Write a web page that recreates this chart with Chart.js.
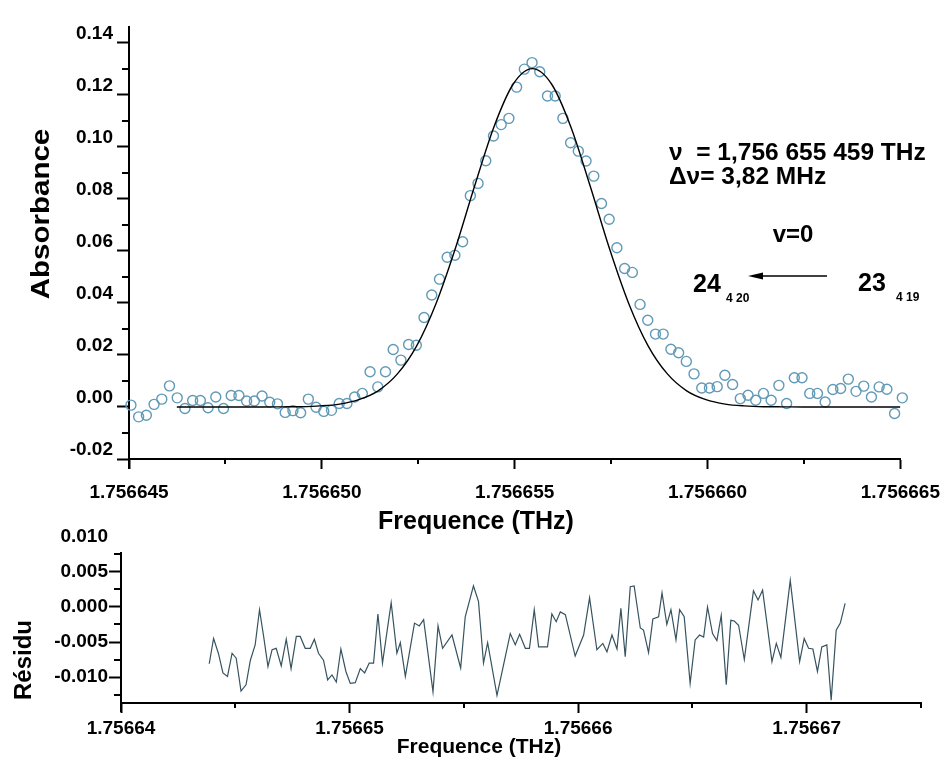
<!DOCTYPE html>
<html>
<head>
<meta charset="utf-8">
<title>Absorbance</title>
<script src="https://cdn.jsdelivr.net/npm/chart.js@4.4.1/dist/chart.umd.min.js"></script>
<style>
  html, body { margin: 0; padding: 0; background: #fff; }
  #wrap { position: relative; width: 952px; height: 760px; }
  #specBox { position: absolute; left: 0; top: 0; width: 952px; height: 540px; }
  #resBox { position: absolute; left: 0; top: 525px; width: 952px; height: 235px; }
</style>
</head>
<body>
<div id="wrap">
  <div id="specBox"><canvas id="specChart" width="952" height="540"></canvas></div>
  <div id="resBox"><canvas id="resChart" width="952" height="235"></canvas></div>
</div>
<script>
const FONT = "'Liberation Sans', Arial, sans-serif";

// mesures (fréquence en THz, absorbance)
const specFreq = [
  1.75664505, 1.75664525, 1.75664545, 1.75664565, 1.75664585, 1.75664605, 1.75664625, 1.75664645, 1.75664665, 1.75664685,
  1.75664705, 1.75664725, 1.75664745, 1.75664765, 1.75664785, 1.75664805, 1.75664825, 1.75664845, 1.75664865, 1.75664885,
  1.75664905, 1.75664925, 1.75664945, 1.75664965, 1.75664985, 1.75665005, 1.75665025, 1.75665045, 1.75665065, 1.75665085,
  1.75665105, 1.75665125, 1.75665145, 1.75665165, 1.75665185, 1.75665205, 1.75665225, 1.75665245, 1.75665265, 1.75665285,
  1.75665305, 1.75665325, 1.75665345, 1.75665365, 1.75665385, 1.75665405, 1.75665425, 1.75665445, 1.75665465, 1.75665485,
  1.75665505, 1.75665525, 1.75665545, 1.75665565, 1.75665585, 1.75665605, 1.75665625, 1.75665645, 1.75665665, 1.75665685,
  1.75665705, 1.75665725, 1.75665745, 1.75665765, 1.75665785, 1.75665805, 1.75665825, 1.75665845, 1.75665865, 1.75665885,
  1.75665905, 1.75665925, 1.75665945, 1.75665965, 1.75665985, 1.75666005, 1.75666025, 1.75666045, 1.75666065, 1.75666085,
  1.75666105, 1.75666125, 1.75666145, 1.75666165, 1.75666185, 1.75666205, 1.75666225, 1.75666245, 1.75666265, 1.75666285,
  1.75666305, 1.75666325, 1.75666345, 1.75666365, 1.75666385, 1.75666405, 1.75666425, 1.75666445, 1.75666465, 1.75666485,
  1.75666505
];
const specAbs = [
  0.0007, -0.0038, -0.0032, 0.0010, 0.0030, 0.0081, 0.0035, -0.0006, 0.0025, 0.0025,
  -0.0003, 0.0038, -0.0006, 0.0044, 0.0044, 0.0023, 0.0023, 0.0042, 0.0018, 0.0012,
  -0.0021, -0.0014, -0.0022, 0.0030, -0.0001, -0.0017, -0.0013, 0.0013, 0.0013, 0.0038,
  0.0052, 0.0135, 0.0077, 0.0135, 0.0221, 0.0180, 0.0240, 0.0237, 0.0344, 0.0430,
  0.0491, 0.0575, 0.0583, 0.0635, 0.0812, 0.0859, 0.0946, 0.1041, 0.1085, 0.1109,
  0.1229, 0.1298, 0.1323, 0.1288, 0.1195, 0.1195, 0.1109, 0.1015, 0.0983, 0.0945,
  0.0887, 0.0782, 0.0721, 0.0612, 0.0532, 0.0517, 0.0394, 0.0333, 0.0280, 0.0280,
  0.0222, 0.0208, 0.0175, 0.0127, 0.0073, 0.0073, 0.0078, 0.0122, 0.0086, 0.0032,
  0.0045, 0.0026, 0.0052, 0.0026, 0.0083, 0.0013, 0.0112, 0.0112, 0.0052, 0.0052,
  0.0019, 0.0067, 0.0071, 0.0107, 0.0060, 0.0080, 0.0038, 0.0077, 0.0068, -0.0025,
  0.0035
];

// profil ajusté (centre 1,756 655 459 THz, largeur 3,82 MHz)
const fitFreq = [
  1.75664624, 1.756648459, 1.756648959, 1.756649459, 1.756649959, 1.756650459, 1.756650959,
  1.756651459, 1.756651959, 1.756652459, 1.756652959, 1.756653459, 1.756653959, 1.756654459,
  1.756654959, 1.756655459, 1.756655959, 1.756656459, 1.756656959, 1.756657459, 1.756657959,
  1.756658459, 1.756658959, 1.756659459, 1.756659959, 1.756660459, 1.756660959, 1.756661459,
  1.756661959, 1.756662459, 1.756665
];
const fitAbs = [
  0, 0, 0.00004, 0.0001, 0.0004, 0.0011, 0.0028,
  0.0062, 0.0127, 0.0235, 0.0397, 0.0608, 0.0848, 0.1075,
  0.1240, 0.1300, 0.1240, 0.1075, 0.0848, 0.0608, 0.0397,
  0.0235, 0.0127, 0.0062, 0.0028, 0.0011, 0.0004, 0.0001,
  0.00004, 0, 0
];

// résidu
const resFreq = [
  1.75664386, 1.75664405, 1.75664426, 1.75664446, 1.75664466, 1.75664486, 1.75664504, 1.75664525, 1.75664547, 1.75664566,
  1.75664587, 1.75664606, 1.75664624, 1.75664643, 1.75664661, 1.75664679, 1.75664701, 1.75664723, 1.75664744, 1.75664767,
  1.75664784, 1.75664806, 1.75664828, 1.75664846, 1.75664864, 1.75664886, 1.75664904, 1.75664923, 1.75664942, 1.75664962,
  1.75664984, 1.75665003, 1.75665025, 1.75665047, 1.75665066, 1.75665086, 1.75665105, 1.75665124, 1.75665144, 1.75665182,
  1.75665207, 1.75665222, 1.75665244, 1.75665284, 1.75665305, 1.75665324, 1.75665365, 1.75665387, 1.75665407, 1.75665448,
  1.75665486, 1.75665506, 1.75665542, 1.75665564, 1.75665586, 1.75665604, 1.75665645, 1.75665703, 1.75665725, 1.75665744,
  1.75665769, 1.75665787, 1.75665808, 1.75665827, 1.75665866, 1.75665885, 1.75665904, 1.75665922, 1.75665944, 1.75665987,
  1.75666024, 1.7566605, 1.75666082, 1.75666108, 1.75666126, 1.75666148, 1.7566617, 1.75666187, 1.75666206, 1.75666228,
  1.75666245, 1.75666272, 1.75666286, 1.75666308, 1.75666327, 1.75666352, 1.75666367, 1.75666388, 1.75666406, 1.75666428,
  1.75666444, 1.75666464, 1.7566649, 1.75666512, 1.75666531, 1.75666549, 1.75666566, 1.75666588, 1.75666607, 1.75666626,
  1.75666648, 1.75666668, 1.75666683, 1.75666702, 1.75666727, 1.75666767, 1.75666787, 1.75666807, 1.75666848, 1.75666867,
  1.75666887, 1.75666928, 1.75666969, 1.75666989, 1.75667008, 1.75667027, 1.75667047, 1.75667066, 1.75667088, 1.75667107,
  1.75667129, 1.75667147, 1.75667168
];
const resVal = [
  -0.0081, -0.0045, -0.0066, -0.0094, -0.0099, -0.0066, -0.0073, -0.0120, -0.0111, -0.0076,
  -0.0054, -0.0004, -0.0042, -0.0085, -0.0061, -0.0059, -0.0084, -0.0046, -0.0088, -0.0042,
  -0.0042, -0.0059, -0.0059, -0.0046, -0.0066, -0.0076, -0.0104, -0.0097, -0.0107, -0.0060,
  -0.0092, -0.0109, -0.0108, -0.0088, -0.0094, -0.0080, -0.0080, -0.0010, -0.0080, 0.0006,
  -0.0066, -0.0051, -0.0099, -0.0023, -0.0027, -0.0018, -0.0121, -0.0027, -0.0059, -0.0040,
  -0.0087, -0.0014, 0.0030, 0.0008, -0.0080, -0.0051, -0.0126, -0.0038, -0.0054, -0.0039,
  -0.0059, -0.0059, -0.0004, -0.0057, -0.0057, -0.0010, -0.0021, -0.0007, -0.0011, -0.0070,
  -0.0040, 0.0013, -0.0061, -0.0052, -0.0064, -0.0040, -0.0060, -0.0002, -0.0071, 0.0029,
  0.0030, -0.0030, -0.0033, -0.0065, -0.0017, -0.0014, 0.0020, -0.0025, -0.0004, -0.0047,
  -0.0004, -0.0014, -0.0109, -0.0047, -0.0040, -0.0043, 0.0000, -0.0038, -0.0048, -0.0012,
  -0.0111, -0.0019, -0.0020, -0.0026, -0.0075, 0.0023, 0.0010, 0.0024, -0.0078, -0.0052,
  -0.0072, 0.0038, -0.0078, -0.0045, -0.0059, -0.0060, -0.0092, -0.0057, -0.0054, -0.0133,
  -0.0033, -0.0023, 0.0005
];

// graduations
const specXTicks = [1.756645, 1.756650, 1.756655, 1.756660, 1.756665];
const specXMinor = [1.7566475, 1.7566525, 1.7566575, 1.7566625];
const specYTicks = [-0.02, 0.00, 0.02, 0.04, 0.06, 0.08, 0.10, 0.12, 0.14];
const specYMinor = [-0.01, 0.01, 0.03, 0.05, 0.07, 0.09, 0.11, 0.13];
const resXTicks = [1.75664, 1.75665, 1.75666, 1.75667];
const resXMinor = [1.756645, 1.756655, 1.756665, 1.756675];
const resYTicks = [-0.010, -0.005, 0.000, 0.005, 0.010];
const resYMinor = [-0.0125, -0.0075, -0.0025, 0.0025, 0.0075];

function toPoints(xs, ys) {
  return xs.map((x, i) => ({ x: x, y: ys[i] }));
}

// petites graduations, tournées vers l'extérieur, et axe Y prolongé sous l'axe X
const minorTicks = {
  id: 'minorTicks',
  afterDraw(chart, args, opts) {
    const ctx = chart.ctx;
    const xs = chart.scales.x, ys = chart.scales.y;
    ctx.save();
    ctx.strokeStyle = '#000';
    ctx.lineWidth = 2;
    ctx.beginPath();
    (opts.x || []).forEach(v => {
      const px = Math.round(xs.getPixelForValue(v));
      ctx.moveTo(px, xs.top);
      ctx.lineTo(px, xs.top + opts.xLen);
    });
    (opts.y || []).forEach(v => {
      const py = Math.round(ys.getPixelForValue(v));
      ctx.moveTo(ys.right, py);
      ctx.lineTo(ys.right - opts.yLen, py);
    });
    if (opts.overhang) {
      ctx.moveTo(ys.right, xs.top);
      ctx.lineTo(ys.right, xs.top + opts.overhang);
    }
    ctx.stroke();
    ctx.restore();
  }
};

// titres d'axes, annotations et flèche
const textLayer = {
  id: 'textLayer',
  afterDraw(chart, args, opts) {
    const ctx = chart.ctx;
    ctx.save();
    ctx.fillStyle = '#000';
    ctx.textBaseline = 'middle';
    (opts.items || []).forEach(t => {
      ctx.save();
      ctx.font = 'bold ' + t.size + 'px ' + FONT;
      ctx.textAlign = t.align || 'left';
      ctx.translate(t.x, t.y);
      if (t.rotate) ctx.rotate(t.rotate);
      if (t.stretch) ctx.scale(t.stretch, 1);
      ctx.fillText(t.text, 0, 0);
      ctx.restore();
    });
    const a = opts.arrow;
    if (a) {
      ctx.strokeStyle = '#000';
      ctx.lineWidth = 1.5;
      ctx.beginPath();
      ctx.moveTo(a.x1, a.y);
      ctx.lineTo(a.x2 + 10, a.y);
      ctx.stroke();
      ctx.beginPath();
      ctx.moveTo(a.x2, a.y);
      ctx.lineTo(a.x2 + 15, a.y - 3.5);
      ctx.lineTo(a.x2 + 15, a.y + 3.5);
      ctx.closePath();
      ctx.fill();
    }
    ctx.restore();
  }
};

const tickFont = { family: FONT, size: 19, weight: 'bold' };

function axisX(min, max, ticks, fmt, height, pad) {
  return {
    type: 'linear', min: min, max: max, bounds: 'data',
    afterBuildTicks: s => { s.ticks = ticks.map(v => ({ value: v })); },
    afterFit: s => { s.height = height; },
    ticks: { callback: v => v.toFixed(fmt), font: tickFont, color: '#000', padding: pad, maxRotation: 0, autoSkip: false },
    grid: { drawOnChartArea: false, tickLength: 10, tickWidth: 2, tickColor: '#000' },
    border: { color: '#000', width: 2 }
  };
}

function axisY(min, max, ticks, fmt, width, pad, shift) {
  return {
    type: 'linear', min: min, max: max, bounds: 'data',
    afterBuildTicks: s => { s.ticks = ticks.map(v => ({ value: v })); },
    afterFit: s => { s.width = width; },
    ticks: { callback: v => v.toFixed(fmt), font: tickFont, color: '#000', padding: pad, labelOffset: shift, autoSkip: false },
    grid: {
      drawOnChartArea: false, tickLength: 12, tickWidth: 2,
      tickColor: c => (c.tick && c.tick.value > max) ? 'rgba(0,0,0,0)' : '#000'
    },
    border: { color: '#000', width: 2 }
  };
}

new Chart(document.getElementById('specChart'), {
  type: 'scatter',
  data: {
    datasets: [{
      data: toPoints(fitFreq, fitAbs),
      showLine: true,
      borderColor: '#000',
      borderWidth: 1.4,
      pointRadius: 0,
      cubicInterpolationMode: 'monotone'
    }, {
      data: toPoints(specFreq, specAbs),
      showLine: false,
      pointRadius: 5,
      pointBorderWidth: 1.4,
      pointBorderColor: 'rgb(96,154,182)',
      pointBackgroundColor: 'rgba(0,0,0,0)',
      clip: false
    }]
  },
  options: {
    responsive: false,
    animation: false,
    events: [],
    layout: { padding: { left: 0, top: 27, right: 46, bottom: 0 } },
    scales: {
      x: axisX(1.756645, 1.756665, specXTicks, 6, 81, 12),
      y: axisY(-0.02, 0.146, specYTicks, 2, 129, 4, -9)
    },
    plugins: {
      legend: { display: false },
      tooltip: { enabled: false },
      minorTicks: { x: specXMinor, y: specYMinor, xLen: 5, yLen: 7, overhang: 10 },
      textLayer: {
        items: [
          { text: 'Absorbance', x: 42, y: 214, size: 25, align: 'center', rotate: -Math.PI / 2, stretch: 1.18 },
          { text: 'Frequence (THz)', x: 476, y: 522, size: 25, align: 'center' },
          { text: 'ν  = 1,756 655 459 THz', x: 669, y: 153, size: 24.5 },
          { text: 'Δν= 3,82 MHz', x: 669, y: 177, size: 24.5 },
          { text: 'v=0', x: 793, y: 235, size: 24, align: 'center' },
          { text: '24', x: 693, y: 285, size: 25 },
          { text: '4 20', x: 726, y: 299, size: 12 },
          { text: '23', x: 858, y: 284, size: 25 },
          { text: '4 19', x: 896, y: 298, size: 12 }
        ],
        arrow: { x1: 827, x2: 748, y: 276 }
      }
    }
  },
  plugins: [minorTicks, textLayer]
});

new Chart(document.getElementById('resChart'), {
  type: 'scatter',
  data: {
    datasets: [{
      data: toPoints(resFreq, resVal),
      showLine: true,
      borderColor: '#37535f',
      borderWidth: 1.2,
      pointRadius: 0,
      tension: 0
    }]
  },
  options: {
    responsive: false,
    animation: false,
    events: [],
    layout: { padding: { left: 0, top: 28, right: 31, bottom: 0 } },
    scales: {
      x: axisX(1.75664, 1.756675, resXTicks, 5, 57, 4),
      y: axisY(-0.0137, 0.0077, resYTicks, 3, 121, 1, 0)
    },
    plugins: {
      legend: { display: false },
      tooltip: { enabled: false },
      minorTicks: { x: resXMinor, y: resYMinor, xLen: 5, yLen: 7, overhang: 9 },
      textLayer: {
        items: [
          { text: 'Résidu', x: 24, y: 135, size: 24, align: 'center', rotate: -Math.PI / 2 },
          { text: 'Frequence (THz)', x: 479, y: 222, size: 21, align: 'center' }
        ]
      }
    }
  },
  plugins: [minorTicks, textLayer]
});
</script>
</body>
</html>
